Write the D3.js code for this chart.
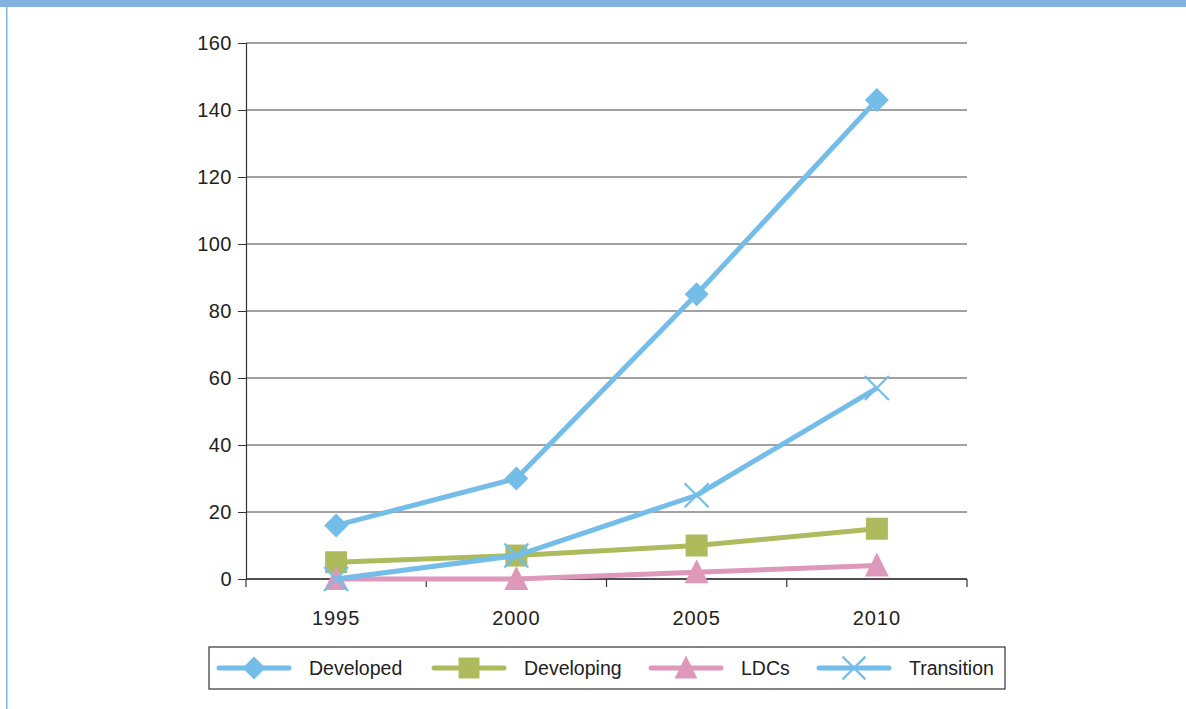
<!DOCTYPE html>
<html>
<head>
<meta charset="utf-8">
<script src="https://cdn.jsdelivr.net/npm/d3@7"></script>
<style>
  html, body { margin: 0; padding: 0; background: #fff; }
  svg { display: block; font-family: "Liberation Sans", Arial, sans-serif; }
</style>
</head>
<body>
<svg id="chart" width="1186" height="709"></svg>
<script>
// Category years and series values
const years = ["1995", "2000", "2005", "2010"];
const developed = [16, 30, 85, 143];
const developing = [5, 7, 10, 15];
const ldcs = [0, 0, 2, 4];
const transition = [0, 7, 25, 57];
const yTicks = [0, 20, 40, 60, 80, 100, 120, 140, 160];

const series = [
  { name: "Developed", values: developed, color: "#74bde9", marker: "diamond" },
  { name: "Developing", values: developing, color: "#aebb5c", marker: "square" },
  { name: "LDCs", values: ldcs, color: "#de98b9", marker: "triangle" },
  { name: "Transition", values: transition, color: "#74bde9", marker: "cross" }
];

const svg = d3.select("#chart");

// page frame: top band and left rule
svg.append("rect").attr("x", 0).attr("y", 0).attr("width", 1186).attr("height", 7).attr("fill", "#82b3de");
svg.append("rect").attr("x", 6).attr("y", 7).attr("width", 1.5).attr("height", 702).attr("fill", "#80b5e6");

const plotLeft = 246, plotRight = 967, plotTop = 43, plotBottom = 579;

const x = d3.scaleBand().domain(years).range([plotLeft, plotRight]);
const y = d3.scaleLinear().domain([0, 160]).range([plotBottom, plotTop]);

// horizontal gridlines
svg.append("g").selectAll("line").data(yTicks).join("line")
  .attr("x1", plotLeft).attr("x2", plotRight)
  .attr("y1", d => y(d)).attr("y2", d => y(d))
  .attr("stroke", "#444").attr("stroke-width", 1);

// y axis
const yAxis = svg.append("g").attr("transform", `translate(${plotLeft},0)`)
  .call(d3.axisLeft(y).tickValues(yTicks).tickSize(8).tickPadding(6));
yAxis.select(".domain").attr("stroke", "#333").attr("stroke-width", 1.2);
yAxis.selectAll(".tick line").attr("stroke", "#333");
yAxis.selectAll(".tick text").attr("font-size", 20).attr("fill", "#222")
  .attr("font-family", "Liberation Sans, Arial, sans-serif").attr("letter-spacing", 0.5);

// x axis with ticks at category boundaries
const xAxis = svg.append("g").attr("transform", `translate(0,${plotBottom})`)
  .call(d3.axisBottom(x).tickSize(0).tickPadding(32));
xAxis.select(".domain").remove();
xAxis.selectAll(".tick text").attr("font-size", 20).attr("fill", "#222")
  .attr("font-family", "Liberation Sans, Arial, sans-serif").attr("letter-spacing", 1);
const bounds = years.map(d => x(d)).concat([x(years[years.length - 1]) + x.bandwidth()]);
svg.append("line").attr("x1", plotLeft).attr("x2", plotRight).attr("y1", plotBottom).attr("y2", plotBottom)
  .attr("stroke", "#333").attr("stroke-width", 1.5);
svg.append("g").selectAll("line").data(bounds).join("line")
  .attr("x1", d => d).attr("x2", d => d)
  .attr("y1", plotBottom).attr("y2", plotBottom + 8)
  .attr("stroke", "#333").attr("stroke-width", 1.2);

const cx = (d, i) => x(years[i]) + x.bandwidth() / 2;

function drawMarker(g, type, color, px, py, scale) {
  const s = scale || 1;
  if (type === "diamond") {
    const r = 12 * s;
    g.append("path").attr("d", `M${px},${py - r}L${px + r},${py}L${px},${py + r}L${px - r},${py}Z`).attr("fill", color);
  } else if (type === "square") {
    const h = 11 * s;
    g.append("rect").attr("x", px - h).attr("y", py - h).attr("width", 2 * h).attr("height", 2 * h).attr("fill", color);
  } else if (type === "triangle") {
    const h = 11 * s;
    g.append("path").attr("d", `M${px},${py - h - 2}L${px + h + 1},${py + h}L${px - h - 1},${py + h}Z`).attr("fill", color);
  } else if (type === "cross") {
    const h = 12 * s;
    g.append("path").attr("d", `M${px - h},${py - h}L${px + h},${py + h}M${px - h},${py + h}L${px + h},${py - h}`)
      .attr("stroke", color).attr("stroke-width", 2.2).attr("fill", "none");
  }
}

const line = d3.line().x(cx).y(d => y(d));

// series drawn in order, so Transition lies over Developing and LDCs
series.forEach(s => {
  const g = svg.append("g");
  g.append("path").datum(s.values).attr("d", line)
    .attr("fill", "none").attr("stroke", s.color).attr("stroke-width", 5)
    .attr("stroke-linejoin", "round");
  s.values.forEach((v, i) => drawMarker(g, s.marker, s.color, cx(v, i), y(v)));
});

// legend
const legend = svg.append("g");
legend.append("rect").attr("x", 209).attr("y", 647).attr("width", 796).attr("height", 42)
  .attr("fill", "#fff").attr("stroke", "#333").attr("stroke-width", 1.2);
const legendX = [219, 434, 651, 819];
series.forEach((s, i) => {
  const g = legend.append("g");
  const x0 = legendX[i], ly = 668;
  g.append("line").attr("x1", x0).attr("x2", x0 + 70).attr("y1", ly).attr("y2", ly)
    .attr("stroke", s.color).attr("stroke-width", 5).attr("stroke-linecap", "round");
  drawMarker(g, s.marker, s.color, x0 + 35, ly, 0.95);
  g.append("text").attr("x", x0 + 90).attr("y", ly + 7).attr("font-size", 19.5).attr("fill", "#222").text(s.name);
});
</script>
</body>
</html>
